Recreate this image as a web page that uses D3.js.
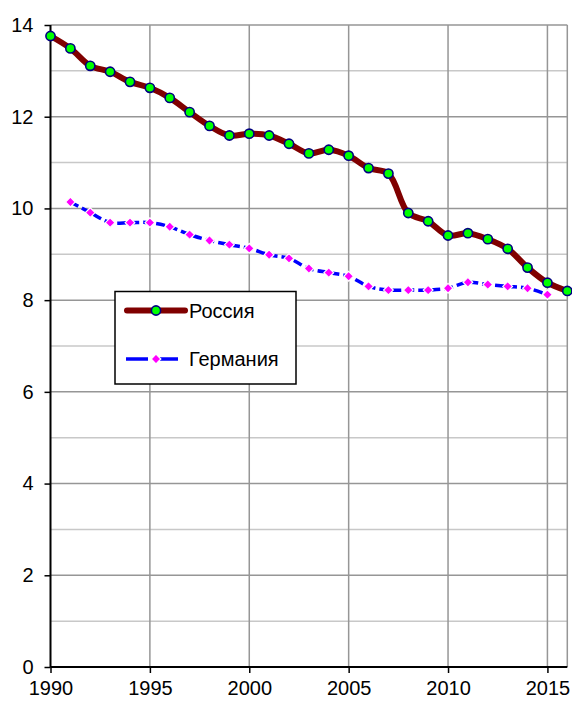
<!DOCTYPE html>
<html>
<head>
<meta charset="utf-8">
<script src="https://cdn.jsdelivr.net/npm/d3@7"></script>
<style>
  body { margin: 0; background: #fff; }
  text { font-family: "Liberation Sans", Arial, sans-serif; fill: #000; }
</style>
</head>
<body>
<div id="chart"></div>
<script>
// ============================================
// DATA
// ============================================

const russiaYears = d3.range(1990, 2017);
const russiaValues = [
  13.76, 13.49, 13.11, 12.98, 12.76, 12.63, 12.41, 12.10, 11.80, 11.59,
  11.63, 11.59, 11.41, 11.20, 11.28, 11.15, 10.88, 10.76, 9.90, 9.72,
  9.41, 9.46, 9.33, 9.12, 8.71, 8.38, 8.20
];

const germanyYears = d3.range(1991, 2016);
const germanyValues = [
  10.14, 9.91, 9.69, 9.69, 9.69, 9.60, 9.43, 9.30, 9.21, 9.13,
  8.99, 8.91, 8.69, 8.60, 8.52, 8.30, 8.22, 8.22, 8.22, 8.26,
  8.39, 8.34, 8.30, 8.26, 8.12
];

const seriesNames = ["Россия", "Германия"];
const xTicks = [1990, 1995, 2000, 2005, 2010, 2015];
const yTicks = [0, 2, 4, 6, 8, 10, 12, 14];
const yMinorTicks = [1, 3, 5, 7, 9, 11, 13];

// ============================================
// LAYOUT
// ============================================

const width = 572;
const height = 702;
const margins = { top: 25, right: 4.7, bottom: 35, left: 50.5 };
const innerW = width - margins.left - margins.right;
const innerH = height - margins.top - margins.bottom;

const svg = d3.select("#chart").append("svg")
  .attr("width", width)
  .attr("height", height);

const g = svg.append("g")
  .attr("transform", `translate(${margins.left},${margins.top})`);

const x = d3.scaleLinear().domain([1990, 2016]).range([0, innerW]);
const y = d3.scaleLinear().domain([0, 14]).range([innerH, 0]);

// grid: minor first, then major
g.selectAll(".minor").data(yMinorTicks).join("line")
  .attr("x1", 0).attr("x2", innerW)
  .attr("y1", d => y(d)).attr("y2", d => y(d))
  .attr("stroke", "#c8c8c8").attr("stroke-width", 1.5);

g.selectAll(".hmajor").data(yTicks.filter(d => d > 0)).join("line")
  .attr("x1", 0).attr("x2", innerW)
  .attr("y1", d => y(d)).attr("y2", d => y(d))
  .attr("stroke", "#969696").attr("stroke-width", 1.5);

g.selectAll(".vmajor").data(xTicks.filter(d => d > 1990)).join("line")
  .attr("x1", d => x(d)).attr("x2", d => x(d))
  .attr("y1", 0).attr("y2", innerH)
  .attr("stroke", "#969696").attr("stroke-width", 1.5);

// right border
g.append("line")
  .attr("x1", innerW).attr("x2", innerW)
  .attr("y1", 0).attr("y2", innerH)
  .attr("stroke", "#969696").attr("stroke-width", 1.5);

// axes
const yAxis = d3.axisLeft(y).tickValues(yTicks).tickSize(6).tickPadding(11);
const xAxis = d3.axisBottom(x).tickValues(xTicks).tickSize(6).tickPadding(8)
  .tickFormat(d3.format("d"));

const yG = g.append("g").call(yAxis);
const xG = g.append("g").attr("transform", `translate(0,${innerH})`).call(xAxis);

[yG, xG].forEach(ax => {
  ax.select(".domain").remove();
  ax.selectAll(".tick line").attr("stroke", "#000").attr("stroke-width", 1.5);
  ax.selectAll(".tick text")
    .style("font-family", "'Liberation Sans', Arial, sans-serif")
    .style("font-size", "20px").attr("fill", "#000");
});

g.append("line").attr("x1", 0).attr("x2", 0).attr("y1", 0).attr("y2", innerH)
  .attr("stroke", "#000").attr("stroke-width", 2);
g.append("line").attr("x1", 0).attr("x2", innerW).attr("y1", innerH).attr("y2", innerH)
  .attr("stroke", "#000").attr("stroke-width", 2);

// ============================================
// SERIES
// ============================================

const russia = russiaYears.map((yr, i) => ({ yr, v: russiaValues[i] }));
const germany = germanyYears.map((yr, i) => ({ yr, v: germanyValues[i] }));

const line = d3.line()
  .x(d => x(d.yr)).y(d => y(d.v))
  .curve(d3.curveCatmullRom.alpha(0.5));

g.append("path").datum(germany)
  .attr("d", line).attr("fill", "none")
  .attr("stroke", "#0000ff").attr("stroke-width", 3.5)
  .attr("stroke-dasharray", "9,4");

const diamond = d3.symbol().type(d3.symbolDiamond2).size(60);
g.selectAll(".gm").data(germany).join("path")
  .attr("d", diamond)
  .attr("transform", d => `translate(${x(d.yr)},${y(d.v)})`)
  .attr("fill", "#ff00ff").attr("stroke", "#fff").attr("stroke-width", 1.2);

g.append("path").datum(russia)
  .attr("d", line).attr("fill", "none")
  .attr("stroke", "#800000").attr("stroke-width", 6)
  .attr("stroke-linejoin", "round");

g.selectAll(".rm").data(russia).join("circle")
  .attr("cx", d => x(d.yr)).attr("cy", d => y(d.v)).attr("r", 4.6)
  .attr("fill", "#00ff00").attr("stroke", "#000080").attr("stroke-width", 1.6);

// ============================================
// LEGEND
// ============================================

const legend = svg.append("g").attr("transform", "translate(115,291.5)");
legend.append("rect")
  .attr("width", 181).attr("height", 92.5)
  .attr("fill", "#fff").attr("stroke", "#000").attr("stroke-width", 1.5);

const r1 = legend.append("g").attr("transform", "translate(0,19)");
r1.append("line").attr("x1", 12).attr("x2", 70).attr("y1", 0).attr("y2", 0)
  .attr("stroke", "#800000").attr("stroke-width", 6).attr("stroke-linecap", "round");
r1.append("circle").attr("cx", 41).attr("cy", 0).attr("r", 4.6)
  .attr("fill", "#00ff00").attr("stroke", "#000080").attr("stroke-width", 1.6);
r1.append("text").attr("x", 74).attr("y", 7).style("font-size", "20px").text(seriesNames[0]);

const r2 = legend.append("g").attr("transform", "translate(0,67.5)");
r2.append("line").attr("x1", 11).attr("x2", 70).attr("y1", 0).attr("y2", 0)
  .attr("stroke", "#0000ff").attr("stroke-width", 3.5)
  .attr("stroke-dasharray", "22,8");
r2.append("path").attr("d", diamond).attr("transform", "translate(41,0)")
  .attr("fill", "#ff00ff").attr("stroke", "#fff").attr("stroke-width", 1.2);
r2.append("text").attr("x", 74).attr("y", 7).style("font-size", "20px").text(seriesNames[1]);
</script>
</body>
</html>
